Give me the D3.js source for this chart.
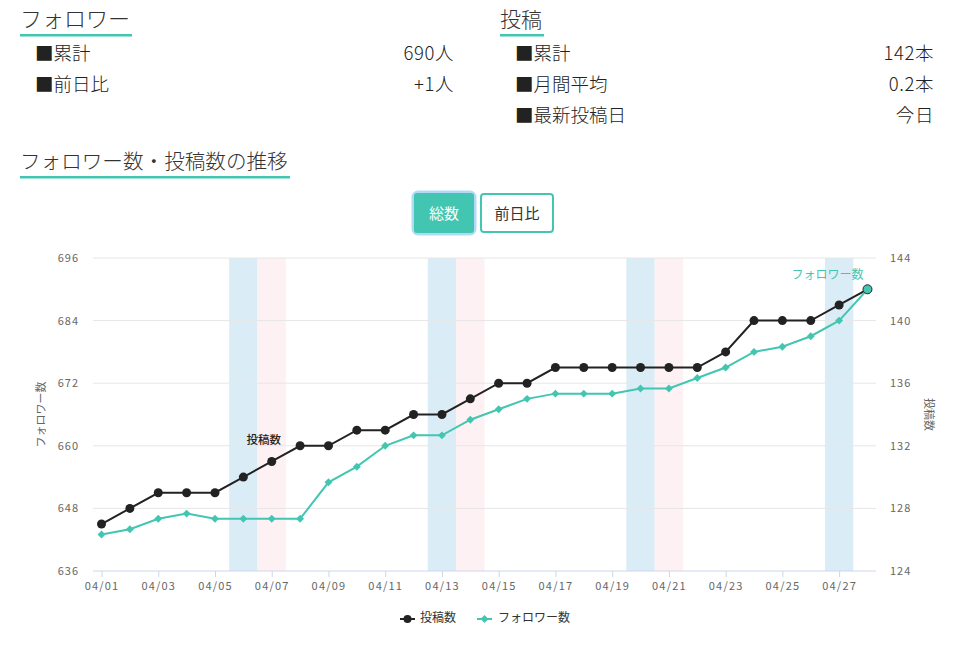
<!DOCTYPE html>
<html>
<head>
<meta charset="utf-8">
<script src="https://cdn.jsdelivr.net/npm/d3@7"></script>
<style>
  body { margin: 0; background: #fff; }
  text { font-family: "Noto Sans CJK JP", "Noto Sans", sans-serif; }
</style>
</head>
<body>
<svg id="chart"></svg>
<script>
const width = 971, height = 647;
const margin = {top: 258, bottom: 76, left: 93, right: 95};

const teal = "rgb(66, 198, 177)";

// data
const dates = ["04/01","04/02","04/03","04/04","04/05","04/06","04/07","04/08","04/09","04/10",
  "04/11","04/12","04/13","04/14","04/15","04/16","04/17","04/18","04/19","04/20",
  "04/21","04/22","04/23","04/24","04/25","04/26","04/27","04/28"];
const posts = [127,128,129,129,129,130,131,132,132,133,133,134,134,135,136,136,137,137,137,137,
  137,137,138,140,140,140,141,142];
const followers = [643,644,646,647,646,646,646,646,653,656,660,662,662,665,667,669,670,670,670,671,
  671,673,675,678,679,681,684,690];
const saturdays = ["04/06","04/13","04/20","04/27"];
const sundays = ["04/07","04/14","04/21"];
const leftTicks = [636,648,660,672,684,696];
const rightTicks = [124,128,132,136,140,144];

const svg = d3.select("#chart")
    .attr("width", width)
    .attr("height", height);

// summary block at the top
function heading(x, y, label, lineW, size) {
  svg.append("text")
      .attr("x", x).attr("y", y)
      .style("font-size", size + "px")
      .style("font-weight", 300)
      .attr("fill", "#333")
      .text(label);
  svg.append("rect")
      .attr("x", x).attr("y", y + 7)
      .attr("width", lineW).attr("height", 2.5)
      .attr("fill", teal);
}
heading(20, 27, "フォロワー", 112, 22);
heading(500, 27, "投稿", 44, 21);
heading(20, 169, "フォロワー数・投稿数の推移", 270, 20.6);

function row(x, xr, y, label, value) {
  svg.append("text").attr("x", x).attr("y", y)
      .style("font-size", "18.5px").style("font-weight", 300)
      .attr("fill", "#222").text("■" + label);
  svg.append("text").attr("x", xr).attr("y", y)
      .attr("text-anchor", "end")
      .style("font-size", "18.5px").style("font-weight", 300)
      .style("letter-spacing", "0.6px")
      .attr("fill", "#222").text(value);
}
row(35, 454, 60, "累計", "690人");
row(35, 454, 91, "前日比", "+1人");
row(515, 934, 60, "累計", "142本");
row(515, 934, 91, "月間平均", "0.2本");
row(515, 934, 122, "最新投稿日", "今日");

// buttons
svg.append("rect")
    .attr("x", 413).attr("y", 192).attr("width", 62).attr("height", 42)
    .attr("rx", 5).attr("fill", "none")
    .attr("stroke", "rgb(178, 218, 247)").attr("stroke-width", 3);
svg.append("rect")
    .attr("x", 414).attr("y", 193).attr("width", 60).attr("height", 40)
    .attr("rx", 3).attr("fill", teal);
svg.append("text")
    .attr("x", 444).attr("y", 219).attr("text-anchor", "middle")
    .style("font-size", "15px").attr("fill", "#fff").text("総数");
svg.append("rect")
    .attr("x", 481).attr("y", 194).attr("width", 72).attr("height", 38)
    .attr("rx", 3).attr("fill", "#fff")
    .attr("stroke", teal).attr("stroke-width", 2);
svg.append("text")
    .attr("x", 517).attr("y", 219).attr("text-anchor", "middle")
    .style("font-size", "15px").attr("fill", "#333").text("前日比");

// scales
const xScale = d3.scalePoint()
    .domain(dates)
    .range([margin.left, width - margin.right])
    .padding(0.3);
const step = xScale.step();

const yLeft = d3.scaleLinear()
    .domain([636, 696])
    .range([height - margin.bottom, margin.top]);
const yRight = d3.scaleLinear()
    .domain([124, 144])
    .range([height - margin.bottom, margin.top]);

// weekend bands
svg.selectAll(".sat")
    .data(saturdays)
    .join("rect")
    .attr("x", d => xScale(d) - step / 2)
    .attr("y", margin.top)
    .attr("width", step)
    .attr("height", height - margin.bottom - margin.top)
    .attr("fill", "rgb(218, 237, 247)");
svg.selectAll(".sun")
    .data(sundays)
    .join("rect")
    .attr("x", d => xScale(d) - step / 2)
    .attr("y", margin.top)
    .attr("width", step)
    .attr("height", height - margin.bottom - margin.top)
    .attr("fill", "rgb(254, 241, 244)");

// grid lines
svg.append("g")
    .selectAll("line")
    .data(leftTicks.slice(1))
    .join("line")
    .attr("x1", margin.left).attr("x2", width - margin.right)
    .attr("y1", d => yLeft(d)).attr("y2", d => yLeft(d))
    .attr("stroke", "#e6e6e6");

// axes
let xAxis = svg.append("g")
    .attr("transform", `translate(0,${height - margin.bottom})`)
    .call(d3.axisBottom(xScale)
      .tickValues(dates.filter((d, i) => i % 2 === 0))
      .tickSize(6)
      .tickPadding(5));
xAxis.select(".domain").attr("stroke", "#ccd6eb").attr("d", `M${margin.left},0H${width - margin.right}`);
xAxis.selectAll(".tick line").attr("stroke", "#ccd6eb");
xAxis.selectAll(".tick text")
    .attr("fill", "#666").style("font-size", "11px").style("letter-spacing", "1.2px");

let yAxisL = svg.append("g")
    .attr("transform", `translate(${margin.left},0)`)
    .call(d3.axisLeft(yLeft).tickValues(leftTicks).tickSize(0).tickPadding(14));
yAxisL.select(".domain").remove();
yAxisL.selectAll(".tick text")
    .attr("fill", "#666").style("font-size", "11px").style("letter-spacing", "1px");

let yAxisR = svg.append("g")
    .attr("transform", `translate(${width - margin.right},0)`)
    .call(d3.axisRight(yRight).tickValues(rightTicks).tickSize(0).tickPadding(14));
yAxisR.select(".domain").remove();
yAxisR.selectAll(".tick text")
    .attr("fill", "#666").style("font-size", "11px").style("letter-spacing", "1px");

// axis titles
svg.append("text")
    .attr("transform", `translate(45,${(margin.top + height - margin.bottom) / 2}) rotate(-90)`)
    .attr("text-anchor", "middle")
    .style("font-size", "11px").attr("fill", "#666")
    .text("フォロワー数");
svg.append("text")
    .attr("transform", `translate(925,${(margin.top + height - margin.bottom) / 2}) rotate(90)`)
    .attr("text-anchor", "middle")
    .style("font-size", "11px").attr("fill", "#666")
    .text("投稿数");

// lines
const postData = dates.map((d, i) => ({x: d, y: posts[i]}));
const followerData = dates.map((d, i) => ({x: d, y: followers[i]}));

svg.append("path")
    .datum(postData)
    .attr("fill", "none")
    .attr("stroke", "#222")
    .attr("stroke-width", 2)
    .attr("d", d3.line().x(d => xScale(d.x)).y(d => yRight(d.y)));

svg.selectAll(".pdot")
    .data(postData)
    .join("circle")
    .attr("cx", d => xScale(d.x))
    .attr("cy", d => yRight(d.y))
    .attr("r", 4.5)
    .attr("fill", "#222");

svg.append("path")
    .datum(followerData)
    .attr("fill", "none")
    .attr("stroke", teal)
    .attr("stroke-width", 2)
    .attr("d", d3.line().x(d => xScale(d.x)).y(d => yLeft(d.y)));

const diamond = d3.symbol().type(d3.symbolDiamond2).size(40);
svg.selectAll(".fdot")
    .data(followerData.slice(0, -1))
    .join("path")
    .attr("transform", d => `translate(${xScale(d.x)},${yLeft(d.y)})`)
    .attr("d", diamond)
    .attr("fill", teal);

const last = followerData[followerData.length - 1];
svg.append("circle")
    .attr("cx", xScale(last.x))
    .attr("cy", yLeft(last.y))
    .attr("r", 4.5)
    .attr("fill", teal)
    .attr("stroke", "#333")
    .attr("stroke-width", 1);

// series labels
svg.append("text")
    .attr("x", xScale("04/07") - 8)
    .attr("y", yRight(posts[6]) - 17)
    .attr("text-anchor", "middle")
    .style("font-size", "11.5px")
    .style("font-weight", 500)
    .attr("fill", "#222")
    .text("投稿数");
svg.append("text")
    .attr("x", xScale(last.x) - 4)
    .attr("y", yLeft(last.y) - 10)
    .attr("text-anchor", "end")
    .style("font-size", "12px")
    .attr("fill", teal)
    .text("フォロワー数");

// legend
const legend = svg.append("g")
    .attr("transform", `translate(400, 619)`);

legend.append("line")
    .attr("x1", 0).attr("x2", 15).attr("y1", 0).attr("y2", 0)
    .attr("stroke", "#222").attr("stroke-width", 2);
legend.append("circle")
    .attr("cx", 7.5).attr("cy", 0).attr("r", 4).attr("fill", "#222");
legend.append("text")
    .attr("x", 20).attr("y", 0)
    .attr("dominant-baseline", "middle")
    .style("font-size", "12px").attr("fill", "#333")
    .text("投稿数");

legend.append("line")
    .attr("x1", 77).attr("x2", 92).attr("y1", 0).attr("y2", 0)
    .attr("stroke", teal).attr("stroke-width", 2);
legend.append("path")
    .attr("transform", "translate(84.5,0)")
    .attr("d", diamond)
    .attr("fill", teal);
legend.append("text")
    .attr("x", 98).attr("y", 0)
    .attr("dominant-baseline", "middle")
    .style("font-size", "12px").attr("fill", "#333")
    .text("フォロワー数");
</script>
</body>
</html>
